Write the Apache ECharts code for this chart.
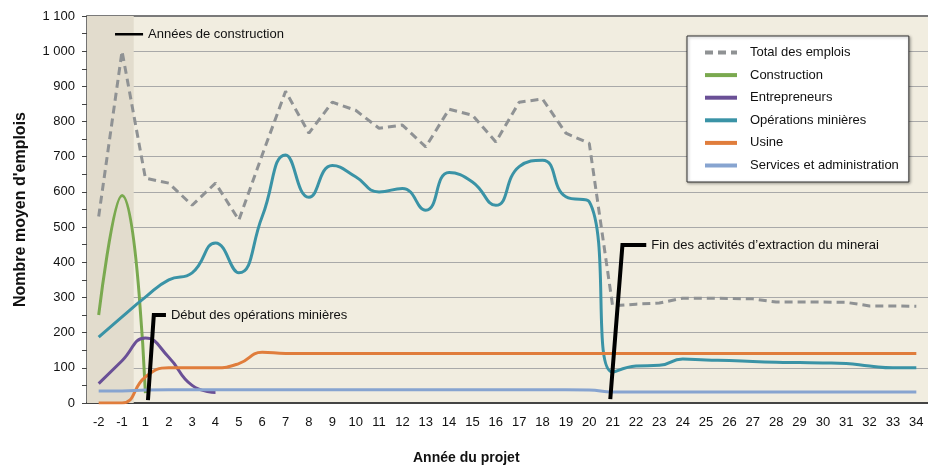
<!DOCTYPE html>
<html>
<head>
<meta charset="utf-8">
<script src="https://cdn.jsdelivr.net/npm/echarts@6/dist/echarts.min.js"></script>
<style>
  html, body { margin: 0; padding: 0; background: #fff; }
  #chart { width: 928px; height: 466px; }
</style>
</head>
<body>
<div id="chart"></div>
<script>
// project years (there is no year 0)
const years = ["-2", "-1", "1", "2", "3", "4", "5", "6", "7", "8", "9", "10", "11", "12",
  "13", "14", "15", "16", "17", "18", "19", "20", "21", "22", "23", "24", "25", "26",
  "27", "28", "29", "30", "31", "32", "33", "34"];

const totalJobs = [530, 1000, 639, 625, 562, 625, 520, 705, 886, 767, 855, 832, 781, 790,
  728, 835, 818, 742, 855, 864, 767, 738, 276, 281, 284, 298, 298, 297,
  296, 287, 287, 287, 286, 276, 276, 275];

const construction = [250, 590, 28];

const contractors = [55, 120, 185, 130, 50, 30];

const mining = [187, 245, 301, 350, 370, 455, 370, 530, 705, 585, 675, 643, 600, 610,
  548, 655, 628, 562, 672, 690, 586, 572, 88, 105, 107, 125, 122, 121,
  118, 116, 115, 114, 112, 105, 100, 100];

const mill = [0, 0, 74, 100, 100, 100, 112, 144, 141, 141, 141, 141, 141, 141,
  141, 141, 141, 141, 141, 141, 141, 141, 141, 141, 141, 141, 141, 141,
  141, 141, 141, 141, 141, 141, 141, 141];

const services = [34, 34, 37, 38, 38, 38, 38, 38, 38, 38, 38, 38, 38, 38,
  38, 38, 38, 38, 38, 38, 38, 37, 31, 31, 31, 31, 31, 31,
  31, 31, 31, 31, 31, 31, 31, 31];

// annotation leaders, in band units (0..36) on a hidden value axis
const buildLegendLine = [[1.2, 1048], [2.4, 1048]];
const miningStartLeader = [[2.61, 8], [2.86, 250], [3.38, 250]];
const miningEndLeader = [[22.4, 11], [22.92, 449], [23.94, 449]];

const fontFamily = "Liberation Sans, Arial, sans-serif";

function withEndLabel(points, text) {
  return points.map((p, i) => i < points.length - 1 ? p : {
    value: p,
    label: { show: true, position: "right", distance: 5, formatter: text,
      color: "#111", fontSize: 13, fontFamily: fontFamily }
  });
}

function leader(points, text, width) {
  return {
    type: "line", xAxisIndex: 1, silent: true, animation: false,
    symbol: "circle", symbolSize: 0, showSymbol: true,
    lineStyle: { color: "#000", width: width, join: "miter", cap: "butt" },
    itemStyle: { color: "#000" },
    data: withEndLabel(points, text),
    z: 5
  };
}

function curve(name, data, color) {
  return {
    name: name, type: "line", smooth: true, symbol: "none",
    lineStyle: { color: color, width: 3 }, itemStyle: { color: color },
    data: data, z: 3
  };
}

const chart = echarts.init(document.getElementById("chart"));

chart.setOption({
  animation: false,
  textStyle: { fontFamily: fontFamily },
  grid: { left: 87, right: 0, top: 16, bottom: 63, show: true,
    backgroundColor: "#f1ede0", borderWidth: 0 },
  legend: {
    orient: "vertical", left: 687, top: 36,
    padding: [10, 10, 10, 16], itemGap: 9.6, itemWidth: 32, itemHeight: 14,
    backgroundColor: "#fff", borderColor: "#333", borderWidth: 1,
    shadowColor: "rgba(0,0,0,0.35)", shadowBlur: 3, shadowOffsetX: 1, shadowOffsetY: 1,
    itemStyle: { opacity: 0 },
    lineStyle: { width: 4 },
    textStyle: { fontSize: 13, color: "#111", padding: [0, 0, 0, 8] },
    data: ["Total des emplois", "Construction", "Entrepreneurs",
      "Opérations minières", "Usine", "Services et administration"]
  },
  xAxis: [
    {
      type: "category", data: years, boundaryGap: true,
      axisLine: { lineStyle: { color: "#444", width: 2 } },
      axisTick: { length: 5, lineStyle: { color: "#444" } },
      axisLabel: { color: "#111", fontSize: 13, margin: 13, interval: 0 },
      splitLine: { show: false }
    },
    {
      type: "value", min: 0, max: 36, position: "top",
      axisLine: { show: true, onZero: false, lineStyle: { color: "#7a7a7a", width: 2 } },
      axisTick: { show: false }, axisLabel: { show: false }, splitLine: { show: false }
    }
  ],
  yAxis: {
    type: "value", min: 0, max: 1100, interval: 100,
    name: "Nombre moyen d'emplois", nameLocation: "middle", nameGap: 58,
    nameTextStyle: { fontSize: 16, fontWeight: "bold", color: "#111" },
    axisLine: { show: true, lineStyle: { color: "#444", width: 1.5 } },
    axisTick: { show: true, length: 5, lineStyle: { color: "#444" } },
    minorTick: { show: true, splitNumber: 2, length: 5, lineStyle: { color: "#444" } },
    axisLabel: { color: "#111", fontSize: 13, margin: 12,
      formatter: v => String(v).replace(/\B(?=(\d{3})+(?!\d))/g, " ") },
    splitLine: { lineStyle: { color: "#a9a9a9", width: 1.2 } }
  },
  graphic: [{
    type: "text", left: 413, top: 451,
    style: { text: "Année du projet", fontSize: 14, fontWeight: "bold",
      fill: "#111", fontFamily: fontFamily }
  }],
  series: [
    {
      type: "line", xAxisIndex: 1, silent: true, symbol: "none",
      data: [[0, null], [36, null]],
      markArea: { silent: true, itemStyle: { color: "#e2dccd" },
        data: [[{ xAxis: 0 }, { xAxis: 2 }]] },
      z: 1
    },
    {
      name: "Total des emplois", type: "line", symbol: "none",
      lineStyle: { color: "#8f9294", width: 3, type: [8, 5] },
      itemStyle: { color: "#8f9294" },
      data: totalJobs, z: 2
    },
    curve("Construction", construction, "#7aa94f"),
    curve("Entrepreneurs", contractors, "#6a5096"),
    curve("Opérations minières", mining, "#3a93a6"),
    curve("Usine", mill, "#e07d3c"),
    curve("Services et administration", services, "#87a4d0"),
    leader(buildLegendLine, "Années de construction", 2.5),
    leader(miningStartLeader, "Début des opérations minières", 4),
    leader(miningEndLeader, "Fin des activités d’extraction du minerai", 4)
  ]
});
</script>
</body>
</html>
